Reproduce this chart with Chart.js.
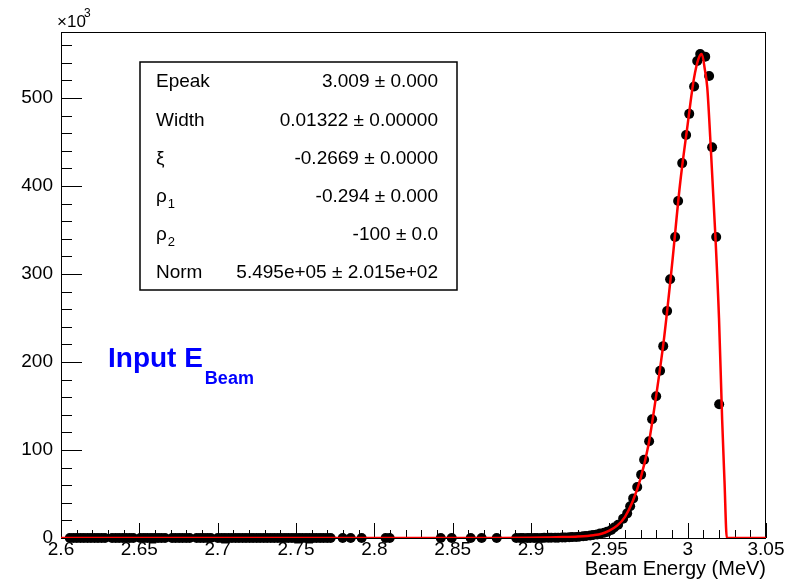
<!DOCTYPE html>
<html>
<head>
<meta charset="utf-8">
<script src="https://cdn.jsdelivr.net/npm/chart.js@4.4.0/dist/chart.umd.min.js"></script>
<style>
  html, body { margin: 0; padding: 0; background: #fff; }
  #wrap { width: 797px; height: 586px; }
</style>
</head>
<body>
<div id="wrap"><canvas id="chart" width="797" height="586"></canvas></div>
<script>
'use strict';

// measured histogram points (MeV, counts in units of 10^3)
const energy = [
  2.6056, 2.6079, 2.6101, 2.6124, 2.6146, 2.6169, 2.6191, 2.6214, 2.6236, 2.6259,
  2.6281, 2.6326, 2.6349, 2.6371, 2.6394, 2.6416, 2.6439, 2.6461, 2.6506,
  2.6529, 2.6551, 2.6574, 2.6596, 2.6619, 2.6641, 2.6664, 2.6709,
  2.6731, 2.6754, 2.6776, 2.6799, 2.6821, 2.6866, 2.6889, 2.6911, 2.6934,
  2.6956, 2.7001, 2.7024, 2.7046, 2.7069, 2.7091, 2.7114, 2.7136, 2.7159,
  2.7181, 2.7204, 2.7226, 2.7249, 2.7271, 2.7294, 2.7316, 2.7339, 2.7361, 2.7384,
  2.7406, 2.7429, 2.7451, 2.7474, 2.7496, 2.7519, 2.7541, 2.7564, 2.7586, 2.7609,
  2.7631, 2.7654, 2.7676, 2.7699, 2.7721,
  2.7798, 2.7849, 2.7919, 2.8072, 2.8098, 2.8424, 2.8494, 2.8615, 2.8685, 2.8781,
  2.8906, 2.8931, 2.8950, 2.8976, 2.8995, 2.9020, 2.9040, 2.9065, 2.9084, 2.9110,
  2.9129, 2.9154, 2.9173, 2.9199, 2.9218, 2.9244, 2.9263, 2.9288, 2.9307, 2.9333,
  2.9352, 2.9378, 2.9397, 2.9422, 2.9441, 2.9467, 2.9486, 2.9512, 2.9531, 2.9556,
  2.9588, 2.9614, 2.9633, 2.9652, 2.9678, 2.9703, 2.9722, 2.9754, 2.9773, 2.9799,
  2.9824, 2.9844, 2.9869, 2.9888, 2.9920, 2.9939, 2.9965, 2.9990, 3.0010, 3.0041,
  3.0061, 3.0080, 3.0112, 3.0137, 3.0156, 3.0182, 3.0201
];
const counts = [
  0, 0, 0, 0, 0, 0, 0, 0, 0, 0,
  0, 0, 0, 0, 0, 0, 0, 0, 0,
  0, 0, 0, 0, 0, 0, 0, 0,
  0, 0, 0, 0, 0, 0, 0, 0, 0,
  0, 0, 0, 0, 0, 0, 0, 0, 0,
  0, 0, 0, 0, 0, 0, 0, 0, 0, 0,
  0, 0, 0, 0, 0, 0, 0, 0, 0, 0,
  0, 0, 0, 0, 0,
  0, 0, 0, 0, 0, 0.01, 0.01, 0.01, 0.01, 0.01,
  0.03, 0.03, 0.04, 0.05, 0.06, 0.08, 0.1, 0.1, 0.15, 0.2,
  0.25, 0.3, 0.4, 0.5, 0.6, 0.8, 1.0, 1.2, 1.5, 1.9,
  2.3, 2.8, 3.4, 4, 5, 6, 7, 9, 12, 15,
  22, 28, 36, 45, 58, 72, 89, 110, 135, 161,
  190, 218, 258, 294, 342, 383, 426, 458, 482, 513,
  542, 550, 547, 525, 444, 342, 152
];

// fitted curve
const fitEnergy = [
  2.6, 2.85, 2.88, 2.9, 2.91, 2.92, 2.93, 2.94, 2.945, 2.95,
  2.955, 2.96, 2.965, 2.97, 2.975, 2.98, 2.985, 2.99, 2.995, 3.0,
  3.004, 3.007, 3.009, 3.011, 3.0125, 3.015, 3.0175, 3.02, 3.022, 3.0235,
  3.025, 3.05
];
const fitCounts = [
  0, 0, 0.05, 0.3, 0.6, 1.0, 1.7, 3.2, 4.8, 8.5,
  14, 24, 42, 68, 106, 163, 228, 310, 400, 470,
  522, 545, 550, 532, 512, 435, 350, 250, 135, 65,
  0, 0
];

const xTicks = [2.6, 2.65, 2.7, 2.75, 2.8, 2.85, 2.9, 2.95, 3.0, 3.05];
const xTickLabels = ['2.6', '2.65', '2.7', '2.75', '2.8', '2.85', '2.9', '2.95', '3', '3.05'];
const yTicks = [0, 100, 200, 300, 400, 500];
const yTickLabels = ['0', '100', '200', '300', '400', '500'];

const statNames = ['Epeak', 'Width', 'ξ', 'ρ', 'ρ', 'Norm'];
const statSubs = ['', '', '', '1', '2', ''];
const statValues = [
  '3.009 ± 0.000',
  '0.01322 ± 0.00000',
  '-0.2669 ± 0.0000',
  '-0.294 ± 0.000',
  '-100 ± 0.0',
  '5.495e+05 ± 2.015e+02'
];

const FONT = '"Liberation Sans", Arial, Helvetica, sans-serif';

// ROOT-style frame with inward ticks on the bottom and left axes
const rootFrame = {
  id: 'rootFrame',
  beforeDatasetsDraw(chart) {
    const ctx = chart.ctx;
    const { left, right, top, bottom } = chart.chartArea;
    const xs = chart.scales.x;
    const ys = chart.scales.y;
    ctx.save();
    ctx.strokeStyle = '#000';
    ctx.lineWidth = 1;
    ctx.strokeRect(Math.round(left) + 0.5, Math.round(top) + 0.5,
      Math.round(right - left) - 1, Math.round(bottom - top));
    ctx.beginPath();
    for (let k = 0; k <= 45; k++) {
      const px = Math.round(xs.getPixelForValue(2.6 + k * 0.01)) + 0.5;
      const len = k % 5 === 0 ? 15 : 8;
      ctx.moveTo(px, bottom);
      ctx.lineTo(px, bottom - len);
    }
    for (let k = 0; k <= 28; k++) {
      const py = Math.round(ys.getPixelForValue(k * 20)) + 0.5;
      const len = k % 5 === 0 ? 21 : 11;
      ctx.moveTo(left, py);
      ctx.lineTo(left + len, py);
    }
    ctx.stroke();
    ctx.restore();
  },
  afterDraw(chart) {
    const ctx = chart.ctx;
    ctx.save();
    ctx.fillStyle = '#000';

    // axis multiplier
    ctx.font = '17px ' + FONT;
    ctx.textBaseline = 'alphabetic';
    ctx.textAlign = 'left';
    ctx.fillText('×10', 57, 27);
    ctx.font = '12px ' + FONT;
    ctx.fillText('3', 84, 17);

    // stats box
    const bx = 140, by = 62, bw = 317, bh = 228;
    ctx.fillStyle = '#fff';
    ctx.fillRect(bx, by, bw, bh);
    ctx.strokeStyle = '#000';
    ctx.lineWidth = 1.5;
    ctx.strokeRect(bx, by, bw, bh);
    ctx.fillStyle = '#000';
    const rowY = [87, 126, 164, 202, 240, 278];
    for (let i = 0; i < statNames.length; i++) {
      ctx.font = '19px ' + FONT;
      ctx.textAlign = 'left';
      ctx.fillText(statNames[i], 156, rowY[i]);
      if (statSubs[i]) {
        const w = ctx.measureText(statNames[i]).width;
        ctx.font = '13px ' + FONT;
        ctx.fillText(statSubs[i], 156 + w + 1, rowY[i] + 6);
        ctx.font = '19px ' + FONT;
      }
      ctx.textAlign = 'right';
      ctx.fillText(statValues[i], 438, rowY[i]);
    }

    // blue label
    ctx.fillStyle = '#0000ff';
    ctx.textAlign = 'left';
    ctx.font = 'bold 28px ' + FONT;
    ctx.fillText('Input E', 108, 367);
    const w = ctx.measureText('Input E').width;
    ctx.font = 'bold 18px ' + FONT;
    ctx.fillText('Beam', 108 + w + 2, 384);
    ctx.restore();
  }
};

const points = energy.map((e, i) => ({ x: e, y: counts[i] }));
const fitLine = fitEnergy.map((e, i) => ({ x: e, y: fitCounts[i] }));

new Chart(document.getElementById('chart'), {
  type: 'scatter',
  data: {
    datasets: [{
      label: 'fit',
      data: fitLine,
      showLine: true,
      borderColor: '#ff0000',
      borderWidth: 2.5,
      pointRadius: 0,
      cubicInterpolationMode: 'monotone',
      order: 0,
    }, {
      label: 'data',
      data: points,
      showLine: false,
      pointRadius: 5,
      pointBackgroundColor: '#000',
      pointBorderColor: '#000',
      pointBorderWidth: 0,
      clip: 8,
      order: 1,
    }]
  },
  options: {
    responsive: false,
    animation: false,
    layout: {
      padding: { top: 32, right: 31, left: 0, bottom: 0 }
    },
    plugins: {
      legend: { display: false },
      tooltip: { enabled: false },
    },
    scales: {
      x: {
        type: 'linear',
        min: 2.6,
        max: 3.05,
        grid: { display: false, drawTicks: false },
        border: { display: false },
        afterBuildTicks: (s) => { s.ticks = xTicks.map(v => ({ value: v })); },
        afterFit: (s) => { s.height = 48; },
        ticks: {
          autoSkip: false,
          maxRotation: 0,
          padding: 0,
          color: '#000',
          font: { family: FONT, size: 19 },
          callback: (v, i) => xTickLabels[i],
        },
        title: {
          display: true,
          text: 'Beam Energy (MeV)',
          align: 'end',
          color: '#000',
          font: { family: FONT, size: 20 },
          padding: { top: 0, bottom: 5 },
        },
      },
      y: {
        type: 'linear',
        min: 0,
        max: 575,
        grid: { display: false, drawTicks: false },
        border: { display: false },
        afterBuildTicks: (s) => { s.ticks = yTicks.map(v => ({ value: v })); },
        afterFit: (s) => { s.width = 61; },
        ticks: {
          padding: 8,
          color: '#000',
          font: { family: FONT, size: 19 },
          callback: (v, i) => yTickLabels[i],
        },
      }
    }
  },
  plugins: [rootFrame]
});
</script>
</body>
</html>
